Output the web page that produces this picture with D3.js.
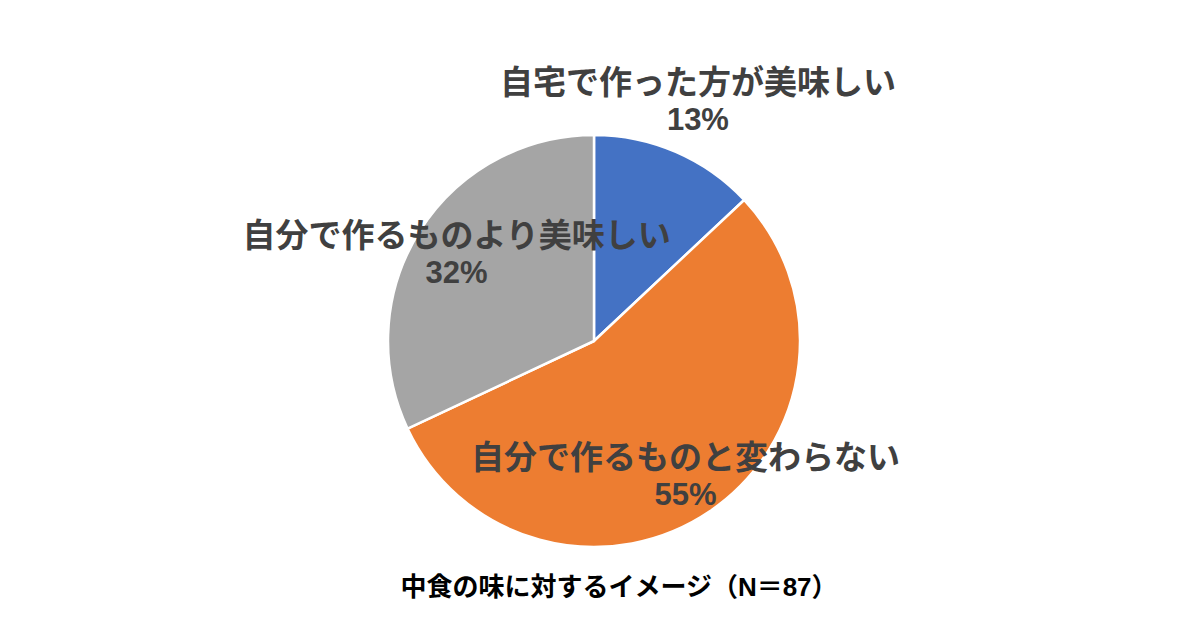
<!DOCTYPE html>
<html><head><meta charset="utf-8">
<script src="https://cdn.jsdelivr.net/npm/d3@7/dist/d3.min.js"></script>
<style>body{margin:0;background:#fff;}svg{display:block;}</style>
</head><body>
<svg id="chart" width="1200" height="630"></svg>
<script>
const categories = ["自宅で作った方が美味しい", "自分で作るものと変わらない", "自分で作るものより美味しい"];
const values = [13, 55, 32];
const colors = ["#4472C4", "#ED7D31", "#A5A5A5"];
const labelRadiusFactor = [1.27, 0.79, 0.79];
const title = "中食の味に対するイメージ（N＝87）";

const svg = d3.select("#chart");
const cx = 594, cy = 341, r = 206;
const fontFam = "'Liberation Sans', Arial, 'Noto Sans CJK JP', sans-serif";

const pie = d3.pie().sort(null).value(d => d)(values);
const arc = d3.arc().innerRadius(0).outerRadius(r);
const g = svg.append("g").attr("transform", `translate(${cx},${cy})`);
g.selectAll("path").data(pie).join("path")
  .attr("d", arc)
  .attr("fill", (d, i) => colors[i])
  .attr("stroke", "#fff").attr("stroke-width", 2.5).attr("stroke-linejoin", "round");

const total = d3.sum(values);
const labels = g.selectAll("g.lbl").data(pie).join("g").attr("class", "lbl")
  .attr("transform", (d, i) => {
    const a = (d.startAngle + d.endAngle) / 2;
    const rr = r * labelRadiusFactor[i];
    return `translate(${rr * Math.sin(a)},${-rr * Math.cos(a)})`;
  });
labels.append("text")
  .attr("text-anchor", "middle").attr("y", -7)
  .attr("font-family", fontFam).attr("font-weight", "bold").attr("font-size", 33)
  .attr("fill", "#404040")
  .text((d, i) => categories[i]);
labels.append("text")
  .attr("text-anchor", "middle").attr("y", 29)
  .attr("font-family", fontFam).attr("font-weight", "bold").attr("font-size", 31)
  .attr("fill", "#404040")
  .text(d => Math.round(d.value / total * 100) + "%");

svg.append("text")
  .attr("x", 619).attr("y", 596)
  .attr("text-anchor", "middle")
  .attr("font-family", fontFam).attr("font-weight", "bold").attr("font-size", 26)
  .attr("fill", "#000")
  .text(title);
</script>
</body></html>
